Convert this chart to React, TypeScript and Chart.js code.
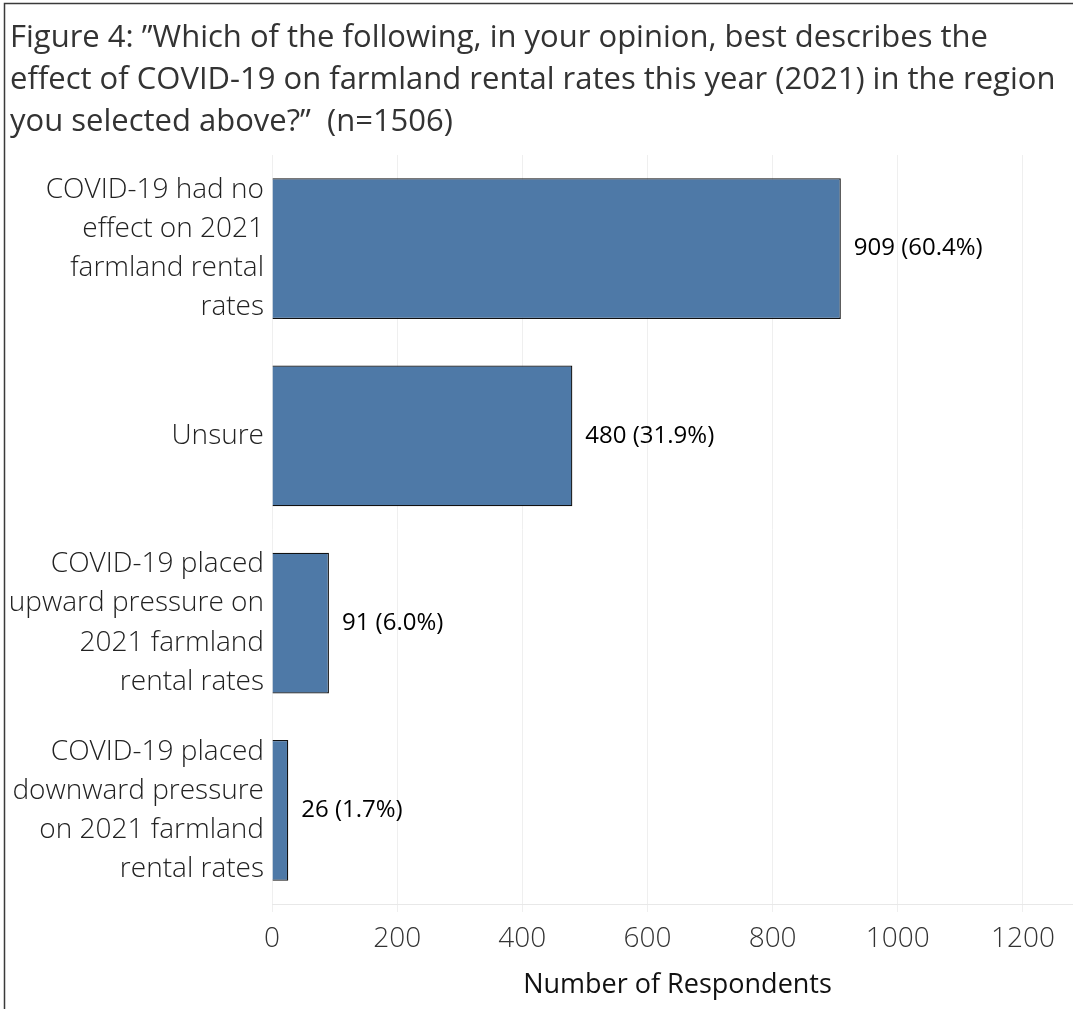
import React, { useEffect, useRef } from "react";
import { Chart, registerables } from "chart.js";

Chart.register(...registerables);

const titleLines = [
  "Figure 4: \u201DWhich of the following, in your opinion, best describes the",
  "effect of COVID-19 on farmland rental rates this year (2021) in the region",
  "you selected above?\u201D  (n=1506)",
];
const categories: string[][] = [
  ["COVID-19 had no", "effect on 2021", "farmland rental", "rates"],
  ["Unsure"],
  ["COVID-19 placed", "upward pressure on", "2021 farmland", "rental rates"],
  ["COVID-19 placed", "downward pressure", "on 2021 farmland", "rental rates"],
];
const counts = [909, 480, 91, 26];
const percents = ["60.4%", "31.9%", "6.0%", "1.7%"];
const xTicks = [0, 200, 400, 600, 800, 1000, 1200];
const xAxisTitle = "Number of Respondents";

const FONT = "'Open Sans', 'Noto Sans', sans-serif";

export default function App() {
  const ref = useRef<HTMLCanvasElement | null>(null);
  useEffect(() => {
    if (!ref.current) return;
    const decor = {
      id: "decor",
      afterDraw(chart: any) {
        const ctx = chart.ctx;
        const area = chart.chartArea;
        ctx.save();
        // border
        ctx.strokeStyle = "#3a3a3a";
        ctx.lineWidth = 1.5;
        ctx.beginPath();
        ctx.moveTo(4.5, 1009);
        ctx.lineTo(4.5, 3.5);
        ctx.lineTo(1083, 3.5);
        ctx.stroke();
        // title
        ctx.fillStyle = "#333333";
        ctx.font = `400 31px ${FONT}`;
        ctx.textAlign = "left";
        ctx.textBaseline = "middle";
        titleLines.forEach((t, i) => ctx.fillText(t, 10, 38 + i * 42));
        // data labels
        const meta = chart.getDatasetMeta(0);
        ctx.fillStyle = "#000000";
        ctx.font = `400 24px ${FONT}`;
        meta.data.forEach((bar: any, i: number) => {
          ctx.fillText(`${counts[i]} (${percents[i]})`, bar.x + 13, bar.y);
        });
        // axis title
        ctx.fillStyle = "#111111";
        ctx.font = `500 27px ${FONT}`;
        ctx.textAlign = "center";
        ctx.fillText(xAxisTitle, (area.left + area.right) / 2, 985);
        ctx.restore();
      },
    };
    const chart = new Chart(ref.current, {
      type: "bar",
      data: {
        labels: categories,
        datasets: [
          {
            data: counts,
            backgroundColor: "#4e79a7",
            borderColor: "#111111",
            borderWidth: 1.3,
            barPercentage: 0.753,
            categoryPercentage: 1,
          },
        ],
      },
      options: {
        indexAxis: "y",
        animation: false,
        responsive: false,
        maintainAspectRatio: false,
        layout: { padding: { top: 155, left: 0, right: 0, bottom: 0 } },
        plugins: {
          legend: { display: false },
          tooltip: { enabled: false },
          title: { display: false },
        },
        scales: {
          x: {
            type: "linear",
            min: 0,
            max: 1296,
            afterBuildTicks: (s: any) => {
              s.ticks = xTicks.map((v) => ({ value: v }));
            },
            afterFit: (s: any) => {
              s.height = 1009 - 904;
            },
            grid: {
              color: "#efefef",
              lineWidth: 1,
              tickLength: 8,
              drawTicks: true,
            },
            border: { display: true, color: "#e8e8e8" },
            ticks: {
              color: "#333333",
              font: { family: FONT, size: 28, weight: "300" },
              padding: 10,
              callback: (v: any) => String(v),
            },
          },
          y: {
            type: "category",
            afterFit: (s: any) => {
              s.width = 272;
            },
            grid: { display: false, drawTicks: false },
            border: { display: false },
            ticks: {
              color: "#222222",
              font: { family: FONT, size: 28, weight: "300", lineHeight: 1.4 },
              padding: 8,
            },
          },
        },
      },
      plugins: [decor],
    } as any);
    return () => chart.destroy();
  }, []);
  return (
    <div
      style={{
        position: "fixed",
        left: 0,
        top: 0,
        width: 1073,
        height: 1009,
        overflow: "hidden",
        background: "#ffffff",
      }}
    >
      <canvas ref={ref} width={1083} height={1009} style={{ width: 1083, height: 1009, display: "block" }} />
    </div>
  );
}
